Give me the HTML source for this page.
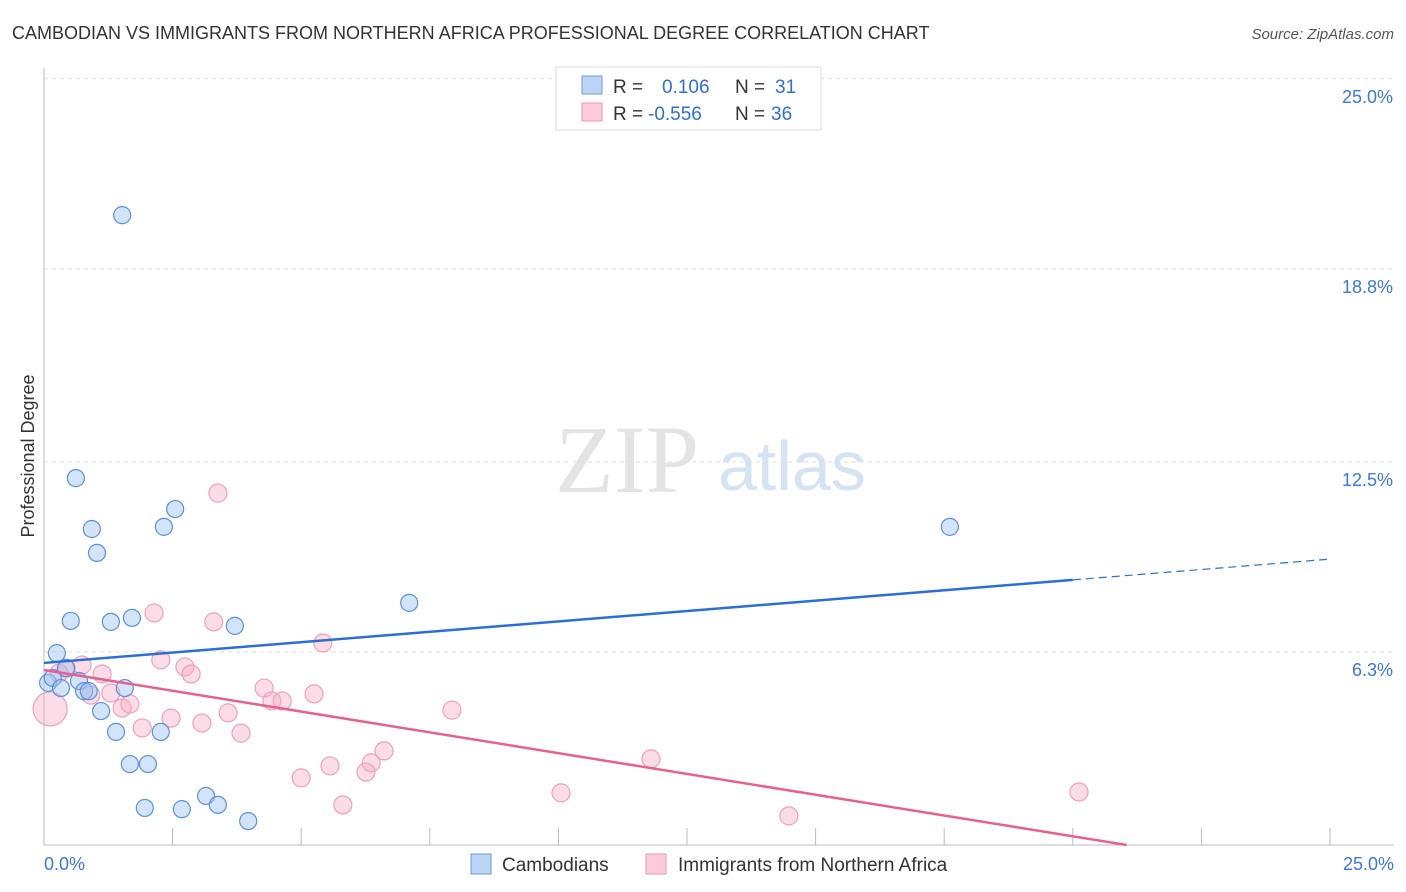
<!DOCTYPE html>
<html><head><meta charset="utf-8"><style>
body{margin:0;background:#fff;font-family:"Liberation Sans",sans-serif;}
#w{position:relative;width:1406px;height:892px;overflow:hidden}
</style></head><body><div id="w">
<svg id="s" width="1406" height="892" xmlns="http://www.w3.org/2000/svg">
<text x="12" y="39" font-size="18" fill="#333">CAMBODIAN VS IMMIGRANTS FROM NORTHERN AFRICA PROFESSIONAL DEGREE CORRELATION CHART</text>
<text x="1394" y="39" font-size="15" fill="#555" font-style="italic" text-anchor="end">Source: ZipAtlas.com</text>
<text x="555" y="492" font-size="96" fill="#e4e4e4" font-family="Liberation Serif">ZIP</text>
<text x="718" y="490" font-size="70" fill="#d6e3f3">atlas</text>
<text transform="translate(34,456) rotate(-90)" font-size="18" fill="#333" text-anchor="middle">Professional Degree</text>
<g id="grid"></g><g id="pts"></g><g id="lines"></g>
<g>
<rect x="556" y="67" width="265" height="63" fill="#fff" stroke="#ddd"/>
<rect x="582" y="76" width="20" height="18" fill="#bcd4f5" stroke="#6d9be0"/>
<rect x="582" y="103" width="20" height="18" fill="#fbcbd9" stroke="#ef94b2"/>
<text x="613" y="93" font-size="19" fill="#333">R = <tspan x="662" fill="#2f6fd6">0.106</tspan><tspan x="735" fill="#333">N = </tspan><tspan x="775" fill="#2f6fd6">31</tspan></text>
<text x="613" y="120" font-size="19" fill="#333">R = <tspan x="648" fill="#2f6fd6">-0.556</tspan><tspan x="735" fill="#333">N = </tspan><tspan x="771" fill="#2f6fd6">36</tspan></text>
</g>
<g>
<rect x="471" y="854" width="20" height="20" fill="#bcd4f5" stroke="#6d9be0"/>
<text x="502" y="871" font-size="19" fill="#333">Cambodians</text>
<rect x="646" y="854" width="20" height="20" fill="#fbcbd9" stroke="#ef94b2"/>
<text x="678" y="871" font-size="19" fill="#333">Immigrants from Northern Africa</text>
</g>
</svg></div>
<script>
const blueX=[1.52,0.62,0.93,1.03,2.33,2.55,0.52,1.30,1.71,3.71,7.10,17.61,0.25,0.43,0.08,0.17,0.33,0.68,0.78,0.87,1.57,1.11,1.40,2.27,1.67,2.02,1.96,2.68,3.15,3.38,3.97];
const blueY=[20.55,11.97,10.31,9.53,10.38,10.96,7.31,7.28,7.41,7.15,7.90,10.38,6.26,5.77,5.29,5.45,5.12,5.35,5.02,5.02,5.12,4.37,3.69,3.69,2.64,2.64,1.21,1.17,1.60,1.31,0.78];
const pinkX=[0.12,0.43,0.74,1.13,1.30,0.91,1.52,1.67,1.91,2.14,2.27,2.47,2.74,2.86,3.07,3.30,3.38,3.58,3.83,4.28,4.43,4.63,5.00,5.25,5.42,5.56,5.81,6.26,6.36,6.61,7.93,10.05,11.80,14.48,20.12,0.29];
const pinkY=[4.44,5.77,5.87,5.58,4.96,4.89,4.47,4.60,3.82,7.57,6.04,4.14,5.81,5.58,3.98,7.28,11.48,4.31,3.65,5.12,4.70,4.70,2.19,4.93,6.59,2.58,1.31,2.38,2.68,3.07,4.40,1.70,2.81,0.95,1.73,5.61];
const pinkR=[17,9,9,9,9,9,9,9,9,9,9,9,9,9,9,9,9,9,9,9,9,9,9,9,9,9,9,9,9,9,9,9,9,9,9,9];
const yTicks=[25.0,18.8,12.5,6.3];
const yTickLabels=["25.0%","18.8%","12.5%","6.3%"];
const blueLine=[5.94,0.1355]; const pinkLine=[5.71,-0.2713];
const NS="http://www.w3.org/2000/svg";
const X=v=>44+v*51.44, Y=v=>845-v*30.65;
function mk(t,a,p){const e=document.createElementNS(NS,t);for(const k in a)e.setAttribute(k,a[k]);p.appendChild(e);return e;}
const grid=document.getElementById('grid');
yTicks.forEach((t,i)=>{
 const l=mk('line',{x1:44,x2:1394,y1:Y(t),y2:Y(t),stroke:'#ddd','stroke-dasharray':'4,4'},grid);
 
 
 const tx=mk('text',{x:1393,y:Y(t)+24,'font-size':18,fill:'#3b78d8','text-anchor':'end'},grid);tx.textContent=yTickLabels[i];
 
 
});
mk('line',{x1:44,x2:44,y1:68,y2:845,stroke:'#bbb'},grid);
mk('line',{x1:44,x2:1394,y1:845,y2:845,stroke:'#bbb'},grid);
for(let i=1;i<=10;i++){const t=mk('line',{x1:X(i*2.5),x2:X(i*2.5),y1:828,y2:845,stroke:'#bbb'},grid);
 
 }
const xl0=mk('text',{x:44,y:870,'font-size':18,fill:'#3b78d8'},grid);xl0.textContent='0.0%';


const xl1=mk('text',{x:1394,y:870,'font-size':18,fill:'#3b78d8','text-anchor':'end'},grid);xl1.textContent='25.0%';


const pts=document.getElementById('pts');
pinkX.forEach((x,i)=>{const c=mk('circle',{cx:X(x),cy:Y(pinkY[i]),r:pinkR[i],fill:'rgba(248,170,195,0.4)',stroke:'#f0a0bb','stroke-width':1.2},pts);
 
 });
blueX.forEach((x,i)=>{const c=mk('circle',{cx:X(x),cy:Y(blueY[i]),r:8.5,fill:'rgba(160,195,240,0.45)',stroke:'#5b90de','stroke-width':1.2},pts);
 
 });
const lines=document.getElementById('lines');
const bl=mk('line',{x1:X(0),y1:Y(blueLine[0]),x2:X(20),y2:Y(blueLine[0]+20*blueLine[1]),stroke:'#2a6fd6','stroke-width':2.5},lines);


const bd=mk('line',{x1:X(20),y1:Y(blueLine[0]+20*blueLine[1]),x2:X(25),y2:Y(blueLine[0]+25*blueLine[1]),stroke:'#2a6fd6','stroke-width':1.2,'stroke-dasharray':'8,5'},lines);


const xe=-pinkLine[0]/pinkLine[1];
const pl=mk('line',{x1:X(0),y1:Y(pinkLine[0]),x2:X(xe),y2:Y(0),stroke:'#e8608f','stroke-width':2.5},lines);


</script></body></html>
